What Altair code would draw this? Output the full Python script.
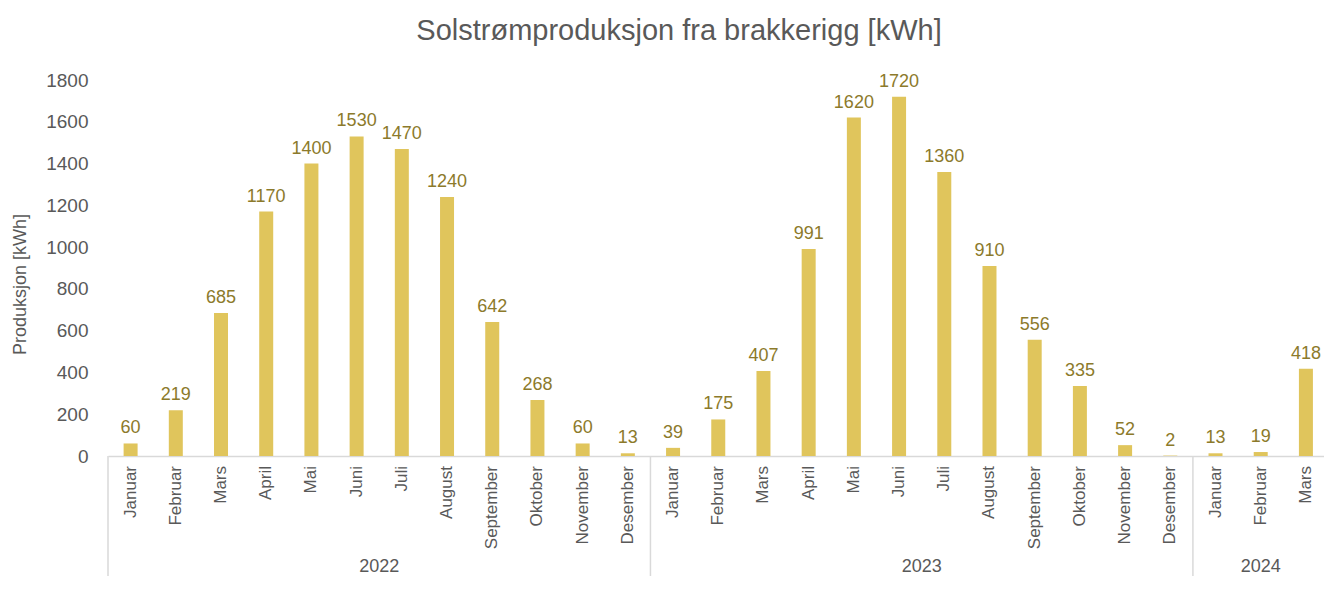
import altair as alt
import pandas as pd

months = ["Januar", "Februar", "Mars", "April", "Mai", "Juni", "Juli",
          "August", "September", "Oktober", "November", "Desember"]
years = ["2022", "2023", "2024"]
values_2022 = [60, 219, 685, 1170, 1400, 1530, 1470, 1240, 642, 268, 60, 13]
values_2023 = [39, 175, 407, 991, 1620, 1720, 1360, 910, 556, 335, 52, 2]
values_2024 = [13, 19, 418]
y_ticks = [0, 200, 400, 600, 800, 1000, 1200, 1400, 1600, 1800]

rows = []
for yr, vals in zip(years, [values_2022, values_2023, values_2024]):
    for m, v in zip(months, vals):
        rows.append({"year": yr, "month": m, "value": v})
df = pd.DataFrame(rows)
df["idx"] = range(len(df))

grp = df.groupby("year")["idx"].agg(["min", "max"]).reset_index()
grp["mid"] = (grp["min"] + grp["max"]) / 2
grp["left"] = grp["min"] - 0.5

FONT = "Liberation Sans"
TXT = "#595959"
BAR = "#E0C55C"
LAB = "#8C7A2B"
GRID = "#D9D9D9"

W, H = 1216, 376
BOTTOM = 120
xscale = alt.Scale(domain=[-0.5, 26.4], nice=False, zero=False, padding=0)
yscale = alt.Scale(domain=[0, 1800], nice=False, padding=0)

base = alt.Chart(df)

bars = base.mark_bar(size=14, color=BAR).encode(
    x=alt.X("idx:Q", scale=xscale,
            axis=alt.Axis(labels=False, ticks=False, grid=False, title=None,
                          domainColor=GRID, domainWidth=1.5)),
    y=alt.Y("value:Q", scale=yscale,
            axis=alt.Axis(values=y_ticks, format="d", grid=False, ticks=False,
                          domain=False, labelFont=FONT, labelFontSize=19,
                          labelColor=TXT, labelPadding=20,
                          title="Produksjon [kWh]", titleFont=FONT,
                          titleFontSize=18, titleColor=TXT,
                          titleFontWeight="normal", titlePadding=16,
                          titleY=204)),
)

labels = base.mark_text(dy=-10, baseline="alphabetic", fontSize=18, font=FONT,
                        color=LAB).encode(
    x=alt.X("idx:Q", scale=xscale), y=alt.Y("value:Q", scale=yscale),
    text="value:Q")

month_labels = base.mark_text(angle=270, align="right", baseline="middle",
                              fontSize=17, font=FONT, color=TXT).encode(
    x=alt.X("idx:Q", scale=xscale), y=alt.value(H + 10), text="month:N")

gbase = alt.Chart(grp)
seps = gbase.mark_rule(color=GRID, strokeWidth=1.5).encode(
    x=alt.X("left:Q", scale=xscale), y=alt.value(H), y2=alt.value(H + BOTTOM))
year_labels = gbase.mark_text(baseline="middle", fontSize=18, font=FONT,
                              color=TXT).encode(
    x=alt.X("mid:Q", scale=xscale), y=alt.value(H + 111), text="year:N")

chart = alt.layer(bars, labels, month_labels, seps, year_labels).properties(
    width=W, height=H, background="white",
    title=alt.TitleParams("Solstrømproduksjon fra brakkerigg [kWh]", fontSize=29,
                          font=FONT, color=TXT, fontWeight="normal",
                          anchor="middle", frame="group", dx=-37, offset=25),
    autosize=alt.AutoSizeParams(type="none"),
    padding={"left": 100, "top": 72, "right": 0, "bottom": BOTTOM},
).configure_view(stroke=None)

chart.save("out.html", embed_options={"renderer": "svg", "actions": False})
